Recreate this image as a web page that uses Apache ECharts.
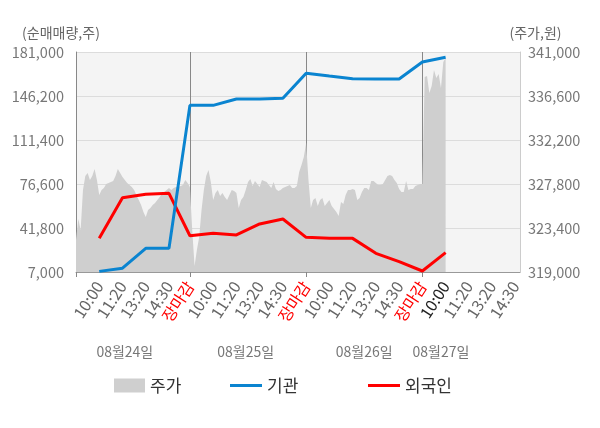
<!DOCTYPE html>
<html><head><meta charset="utf-8">
<script src="https://cdn.jsdelivr.net/npm/echarts@6/dist/echarts.min.js"></script>
<style>html,body{margin:0;padding:0;background:#fff}#c{width:600px;height:428px}</style>
</head><body><div id="c"></div>
<script>
const FONT = '"Noto Sans CJK KR","Noto Sans",sans-serif';

// x axis: one category per time step
const slotCount = 192;
const tickIndex = [10,20,30,40,49, 59,69,79,89,99, 109,119,129,139,149, 159,169,179,189];
const tickText  = ['10:00','11:20','13:20','14:30','장마감',
                   '10:00','11:20','13:20','14:30','장마감',
                   '10:00','11:20','13:20','14:30','장마감',
                   '10:00','11:20','13:20','14:30'];
const dayBoundaryIndex = [49, 99, 149];
const dateIndex = [21, 73, 124, 157];
const dateText  = ['08월24일','08월25일','08월26일','08월27일'];
const todayFirstTick = 159;

// investor net buying (left axis)
const investorIndex = [10,20,30,40,49, 59,69,79,89,99, 109,119,129,139,149, 159];
const gigwan  = [7500,10000,25700,25700,138800, 138800,143800,143800,144400,164200, 162000,159900,159700,159700,173100, 176800];
const foreign = [33700,65800,68500,69200,35700, 37600,36300,45000,48900,34400, 33600,33600,21800,15200,7800, 22300];

// stock price (right axis), index 0..159
const price = [
 322200,324300,323200,327200,328600,328900,328200,328600,329300,328200,
 326700,327200,327400,327800,327900,328000,328100,328600,329300,328900,
 328500,328200,327900,327700,327500,327200,326700,326200,325700,325000,
 324500,325200,325400,325700,325900,326200,326500,326800,327000,327200,
 327400,327200,327400,327500,327500,327600,327700,328200,327900,327500,
 323200,319600,321200,322500,325200,327200,328600,329200,328000,326200,
 326900,327200,326600,326900,326500,326200,326700,327200,327100,326900,
 325400,326200,326500,327200,328000,328300,327600,328100,327800,327500,
 328200,328100,328000,327700,327400,328000,327300,327100,327200,327400,
 327500,327600,327700,327400,327400,327600,329000,329700,330500,331900,
 328200,325400,326200,326400,325600,326200,326400,325600,325900,326200,
 325600,325300,325000,324600,326000,325800,326700,327200,327200,327300,
 327200,326200,326400,327000,327400,327400,327200,328100,328100,327900,
 327700,327700,327800,328200,328600,328700,328600,328200,327900,327300,
 327000,327000,328100,327200,327300,327300,327600,327700,327800,327800,
 338500,338600,336900,337600,339200,338400,338800,337400,340000,340400
];

const leftMin = 7000, leftMax = 181000, leftStep = 34800;
const rightMin = 319000, rightMax = 341000, rightStep = 4400;

const categories = Array.from({length: slotCount}, (_, i) => String(i));
const pairs = vals => investorIndex.map((k, j) => [k, vals[j]]);
const fmt = v => Number(v).toLocaleString('en-US');

const chart = echarts.init(document.getElementById('c'), null, {renderer: 'canvas'});
const legendBase = {padding: 0, icon: 'rect', textStyle: {fontSize: 17, color: '#333', fontFamily: FONT}, itemGap: 8};
chart.setOption({
  animation: false,
  textStyle: {fontFamily: FONT},
  grid: {left: 76, right: 80, top: 52, bottom: 156, show: true, backgroundColor: '#f4f4f4', borderWidth: 0},
  legend: [
    Object.assign({}, legendBase, {data: ['주가'], left: 114, top: 377, itemWidth: 31, itemHeight: 14}),
    Object.assign({}, legendBase, {data: ['기관'], left: 230, top: 377, itemWidth: 32, itemHeight: 3}),
    Object.assign({}, legendBase, {data: ['외국인'], left: 368, top: 377, itemWidth: 32, itemHeight: 3})
  ],
  xAxis: [{
    type: 'category', data: categories, boundaryGap: false, position: 'bottom',
    axisLine: {show: true, lineStyle: {color: '#999'}},
    axisTick: {show: true, length: 5, interval: i => i === 0 || dayBoundaryIndex.includes(i), lineStyle: {color: '#888'}},
    splitLine: {show: true, interval: i => dayBoundaryIndex.includes(i), lineStyle: {color: '#888', width: 1}},
    axisLabel: {
      interval: i => tickIndex.includes(i),
      formatter: (v) => tickText[tickIndex.indexOf(Number(v))] || '',
      rotate: 57, fontSize: 16, margin: 11, fontFamily: FONT,
      color: (v) => {
        const k = Number(v);
        if (tickText[tickIndex.indexOf(k)] === '장마감') return '#ff0000';
        if (k === todayFirstTick) return '#222';
        return '#666';
      }
    }
  }, {
    type: 'category', data: categories, boundaryGap: false, position: 'bottom', offset: 64,
    axisLine: {show: false}, axisTick: {show: false}, splitLine: {show: false},
    axisLabel: {
      interval: i => dateIndex.includes(i),
      formatter: (v) => dateText[dateIndex.indexOf(Number(v))] || '',
      fontSize: 14, color: '#777', margin: 9, fontFamily: FONT
    }
  }],
  yAxis: [{
    type: 'value', position: 'left', min: leftMin, max: leftMax, interval: leftStep,
    name: '(순매매량,주)', nameLocation: 'end', nameGap: 12,
    nameTextStyle: {color: '#666', fontSize: 14, align: 'center', padding: [0, 30, 0, 0], fontFamily: FONT},
    axisLine: {show: true, lineStyle: {color: '#888'}},
    axisTick: {show: false},
    axisLabel: {formatter: fmt, color: '#777', fontSize: 14.5, margin: 12, fontFamily: FONT},
    splitLine: {show: true, lineStyle: {color: '#dcdcdc'}}
  }, {
    type: 'value', position: 'right', min: rightMin, max: rightMax, interval: rightStep,
    name: '(주가,원)', nameLocation: 'end', nameGap: 12,
    nameTextStyle: {color: '#666', fontSize: 14, align: 'center', padding: [0, 0, 0, 31], fontFamily: FONT},
    axisLine: {show: true, lineStyle: {color: '#ccc'}},
    axisTick: {show: false},
    axisLabel: {formatter: fmt, color: '#777', fontSize: 14.5, margin: 8, fontFamily: FONT},
    splitLine: {show: false}
  }],
  series: [{
    name: '주가', type: 'line', xAxisIndex: 0, yAxisIndex: 1, data: price,
    symbol: 'none', color: '#cfcfcf',
    lineStyle: {width: 0, color: '#cfcfcf'},
    areaStyle: {color: '#cfcfcf', opacity: 1, origin: 'start'}
  }, {
    name: '외국인', type: 'line', xAxisIndex: 0, yAxisIndex: 0, data: pairs(foreign),
    symbol: 'none', color: '#ff0000', lineStyle: {width: 3, color: '#ff0000'}
  }, {
    name: '기관', type: 'line', xAxisIndex: 0, yAxisIndex: 0, data: pairs(gigwan),
    symbol: 'none', color: '#0a84d0', lineStyle: {width: 3, color: '#0a84d0'}
  }]
});
</script>
</body></html>
